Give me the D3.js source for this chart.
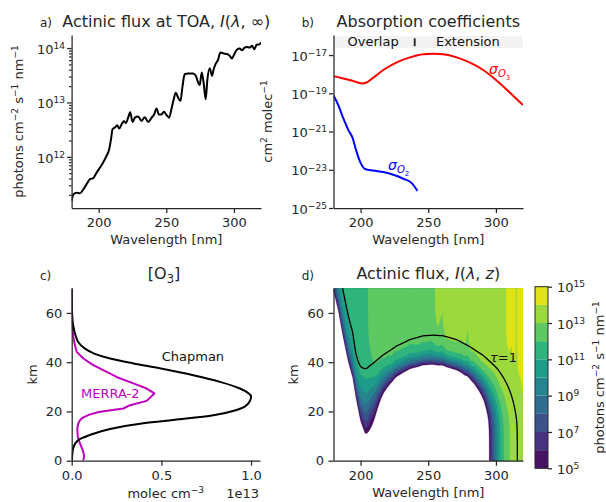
<!DOCTYPE html>
<html><head><meta charset="utf-8">
<script src="https://cdn.jsdelivr.net/npm/d3@7/dist/d3.min.js"></script>
<style>
html,body{margin:0;padding:0;background:#fff}
svg text{font-family:"DejaVu Sans",sans-serif;white-space:pre}
</style></head>
<body><svg id="fig" width="606" height="502"></svg>
<script>
// ---------------- data ----------------
// a) actinic flux at top of atmosphere (photons cm-2 s-1 nm-1)
const fluxWavelength = [180.0,181.3,183.7,186.2,188.6,191.1,193.6,196.0,198.5,200.9,203.4,205.9,207.8,209.1,210.3,212.0,213.7,215.2,217.0,218.7,220.1,221.8,223.3,225.1,226.8,229.2,231.7,234.1,236.6,239.1,241.0,242.8,244.5,246.5,248.2,250.1,252.1,253.8,255.5,257.0,258.7,260.5,261.9,263.6,266.1,269.8,271.8,273.5,274.7,276.2,277.7,279.1,280.4,282.1,283.8,285.0,286.5,288.2,290.0,292.4,294.9,296.8,298.5,300.3,302.2,304.2,306.1,307.8,309.5,311.5,313.4,315.1,316.8,318.8,320.0];
const fluxTOA = [1.55e11,2.04e11,2.19e11,2.14e11,2.51e11,3.16e11,3.89e11,4.07e11,5.13e11,6.31e11,7.94e11,1.05e12,1.38e12,2.09e12,3.24e12,3.47e12,3.80e12,3.31e12,3.98e12,4.57e12,4.17e12,5.25e12,6.61e12,4.37e12,5.25e12,5.50e12,4.57e12,5.37e12,4.37e12,5.25e12,6.03e12,7.76e12,6.03e12,6.03e12,6.76e12,5.89e12,5.25e12,7.59e12,1.15e13,1.51e13,1.23e13,1.07e13,1.91e13,3.31e13,3.39e13,3.39e13,3.09e13,2.34e13,2.09e13,3.55e13,2.19e13,1.15e13,2.69e13,4.27e13,3.09e13,4.07e13,5.13e13,6.03e13,8.32e13,7.94e13,7.76e13,7.24e13,6.46e13,7.76e13,9.33e13,9.77e13,9.12e13,1.02e14,1.05e14,1.02e14,1.10e14,9.55e13,1.15e14,1.17e14,1.26e14];

// b) absorption cross sections (cm2 molec-1)
const o3Wavelength = [180,187.2,194.6,200.8,204.5,209.4,216.8,226.7,236.5,246.3,253.7,261.1,271,280.8,290.6,300.5,310.4,320];
const sigmaO3 = [7.9e-19,6.0e-19,4.4e-19,3.3e-19,3.7e-19,6.6e-19,1.66e-18,4.17e-18,7.59e-18,1.10e-17,1.17e-17,1.10e-17,7.59e-18,3.98e-18,1.66e-18,4.7e-19,1.07e-19,2.4e-20];
const o2Wavelength = [180,183.5,187.2,190.9,194.2,196.6,199.6,203.3,209.4,216.8,224.2,231.6,237.8,242];
const sigmaO2 = [7.6e-20,2.45e-20,5.0e-21,1.23e-21,4.47e-22,1.10e-22,2.69e-23,1.10e-23,9.1e-24,7.6e-24,5.5e-24,3.4e-24,2.0e-24,7.9e-25];
const regionLabels = ["Overlap","Extension"];
const regionEdges = [180,240,320];

// c) ozone profiles (molec cm-3)
const chapmanKm = [0,5,8.4,10.4,12.9,15.2,16.8,18.5,20.6,22.6,26,29.3,32,34.7,37.5,39.5,41.5,43.5,45.6,48.2,51,55,60,65,70];
const chapmanO3 = [1e10,8e10,3.7e11,1.0e12,2.14e12,4.0e12,6.0e12,7.9e12,9.2e12,9.76e12,1.0e13,9.38e12,8.27e12,6.78e12,4.9e12,3.44e12,2.14e12,1.25e12,7.2e11,3.6e11,2.1e11,8e10,2.2e10,6e9,1.6e9];
const merraKm = [0,2,4.3,7.0,9.7,13.1,15.2,16.8,17.6,18.6,19.8,21.2,22.4,24.3,27.3,29.3,31.4,34.0,36.8,38.8,41.5,44.2,46.9,50.3,55.7,70];
const merraO3 = [6.5e11,6.9e11,6.2e11,4.6e11,3.4e11,3.1e11,3.7e11,5.0e11,6.5e11,9.5e11,1.5e12,2.88e12,3.2e12,4.18e12,4.61e12,4.18e12,3.44e12,2.5e12,1.76e12,1.2e12,6.5e11,2.8e11,1.8e11,9e10,0,0];

// model O2 number density used for the O2 optical depth (molec cm-3)
const atmKm = [0,5,10,15,20,25,30,35,40,45,50,55,60,65,70];
const o2Density = [5.25e18,2.57e18,1.258e18,6.16e17,3.01e17,1.476e17,7.23e16,3.54e16,1.73e16,8.48e15,4.15e15,2.03e15,9.94e14,4.87e14,2.38e14];

// d) contour levels (log10 of actinic flux)
const fluxLevels = [5,6,7,8,9,10,11,12,13,14,15];
const cbarTicks = [1e5,1e7,1e9,1e11,1e13,1e15];

// ---------------- helpers ----------------
const INK = '#262626';
const svg = d3.select('#fig');

function interpLog(xs, ys, x){
  if (x <= xs[0]) return ys[0];
  if (x >= xs[xs.length-1]) return ys[ys.length-1];
  const k = d3.bisectRight(xs, x) - 1;
  const t = (x - xs[k]) / (xs[k+1] - xs[k]);
  return Math.exp(Math.log(ys[k])*(1-t) + Math.log(ys[k+1])*t);
}
function segInt(na, nb, dz){
  if (Math.abs(na-nb) < 1e-9*Math.max(na,nb)) return na*dz;
  return (na-nb)*dz/Math.log(na/nb);
}
function columnAbove(zs, ns, z){
  const n = zs.length;
  const hTop = (zs[n-1]-zs[n-2]) / Math.log(ns[n-2]/ns[n-1]);
  if (z >= zs[n-1]) return ns[n-1]*Math.exp(-(z-zs[n-1])/hTop)*hTop*1e5;
  let s = ns[n-1]*hTop;
  const k = Math.max(0, d3.bisectRight(zs, z)-1);
  s += segInt(interpLog(zs, ns, z), ns[k+1], zs[k+1]-z);
  for (let m=k+1; m<n-1; m++) s += segInt(ns[m], ns[m+1], zs[m+1]-zs[m]);
  return s*1e5;
}
function sO3(l){ return interpLog(o3Wavelength, sigmaO3, l); }
function sO2(l){ return l > o2Wavelength[o2Wavelength.length-1] ? 0 : interpLog(o2Wavelength, sigmaO2, l); }
function tau(l, z){ return sO3(l)*columnAbove(chapmanKm, chapmanO3, z) + sO2(l)*columnAbove(atmKm, o2Density, z); }

function rich(t, parts, fs){
  let cur = 0;
  parts.forEach(p => {
    let off = 0, size = fs;
    if (p.sup){ off = -0.38*fs; size = 0.7*fs; }
    if (p.sub){ off = 0.22*fs; size = 0.72*fs; }
    if (p.sub2){ off = 0.40*fs; size = 0.5*fs; }
    const ts = t.append('tspan').attr('font-size', size).text(p.t);
    if (off !== cur) ts.attr('dy', off-cur);
    if (p.it) ts.attr('font-style','italic');
    cur = off;
  });
}
function label(x, y, parts, fs, opts={}){
  const t = svg.append('text').attr('x',x).attr('y',y).attr('font-size',fs)
    .attr('fill', opts.fill||INK).attr('text-anchor', opts.anchor||'start');
  if (opts.rotate) t.attr('transform', `rotate(${opts.rotate},${x},${y})`);
  rich(t, typeof parts === 'string' ? [{t:parts}] : parts, fs);
  return t;
}
function styleAxis(g){
  g.attr('font-family','DejaVu Sans').attr('font-size',13);
  g.select('.domain').attr('stroke',INK).attr('stroke-width',1.25);
  g.selectAll('.tick line').attr('stroke',INK).attr('stroke-width',1.25);
  g.selectAll('.tick text').attr('fill',INK);
}
function powLabels(g, dy){
  g.selectAll('.tick text').each(function(d){
    const e = Math.round(Math.log10(d));
    const t = d3.select(this).text(null).attr('dy', dy);
    rich(t, [{t:'10'},{t:(e<0?'\u2212'+(-e):''+e), sup:true}], 13);
  });
}
function clip(id, x0, y0, x1, y1){
  svg.append('clipPath').attr('id',id).append('rect').attr('x',x0).attr('y',y0).attr('width',x1-x0).attr('height',y1-y0);
}
const unitParts = [{t:'photons cm'},{t:'\u22122',sup:true},{t:' s'},{t:'\u22121',sup:true},{t:' nm'},{t:'\u22121',sup:true}];

// ---------------- scales ----------------
const xA = d3.scaleLinear().domain([180,320]).range([71.6,261]);
const yA = d3.scaleLog().domain([Math.pow(10,11.06), Math.pow(10,14.24)]).range([208,35]);
const xB = d3.scaleLinear().domain([180,320]).range([333.5,523]);
const yB = d3.scaleLog().domain([1e-25, Math.pow(10,-15.95)]).range([208,35]);
const xC = d3.scaleLinear().domain([0,1.05e13]).range([71.7,260]);
const yC = d3.scaleLinear().domain([0,70]).range([460.7,288.3]);
const xD = d3.scaleLinear().domain([180,320]).range([333.5,523]);
const yD = yC.copy();
const cS = d3.scaleLog().domain([1e5,1e15]).range([468.3,286.7]);
const color = d3.scaleOrdinal().domain(fluxLevels.slice(0,-1)).range(fluxLevels.slice(0,-1).map((v,i)=>d3.interpolateViridis((i+0.5)/(fluxLevels.length-1))));

// ================= panel a =================
clip('clipA', 71.6, 35, 261, 208);
svg.append('path').datum(fluxWavelength.map((l,i)=>[l,fluxTOA[i]]))
  .attr('clip-path','url(#clipA)')
  .attr('d', d3.line().x(d=>xA(d[0])).y(d=>yA(d[1])).curve(d3.curveMonotoneX))
  .attr('fill','none').attr('stroke','#000').attr('stroke-width',2).attr('stroke-linejoin','round');
{
  const gx = svg.append('g').attr('transform','translate(0,208)')
    .call(d3.axisBottom(xA).tickValues([200,250,300]).tickSize(5).tickPadding(5).tickSizeOuter(0));
  styleAxis(gx);
  const minors = [];
  [11,12,13,14].forEach(e=>{ for(let m=2;m<=9;m++){ const v=m*Math.pow(10,e); if(v>yA.domain()[0]&&v<yA.domain()[1]) minors.push(v);} });
  const gm = svg.append('g').attr('transform','translate(71.6,0)')
    .call(d3.axisLeft(yA).tickValues(minors).tickSize(2.5).tickFormat(''));
  styleAxis(gm); gm.select('.domain').remove();
  const gy = svg.append('g').attr('transform','translate(71.6,0)')
    .call(d3.axisLeft(yA).tickValues([1e12,1e13,1e14]).tickSize(4.5).tickPadding(2).tickSizeOuter(0));
  styleAxis(gy); powLabels(gy, '0.42em');
}
label(166.3, 27, [{t:'Actinic flux at TOA, '},{t:'I',it:true},{t:'('},{t:'\u03bb',it:true},{t:', \u221e)'}], 16, {anchor:'middle'});
label(40, 27, 'a)', 12);
label(166.3, 244, 'Wavelength [nm]', 13, {anchor:'middle'});
label(23, 121.5, unitParts, 13, {anchor:'middle', rotate:-90});

// ================= panel b =================
clip('clipB', 333.5, 35, 523, 208);
svg.append('rect').attr('x',xB(regionEdges[0])).attr('y',36).attr('width',xB(regionEdges[2])-xB(regionEdges[0])).attr('height',12.3).attr('fill','#f3f3f3');
regionLabels.forEach((s,i)=>label(xB((regionEdges[i]+regionEdges[i+1])/2)-1, 46, s, 13, {anchor:'middle', fill:'#111'}));
svg.append('line').attr('x1',xB(regionEdges[1])).attr('x2',xB(regionEdges[1])).attr('y1',38.3).attr('y2',46.2).attr('stroke','#333').attr('stroke-width',2);
const lineB = d3.line().x(d=>xB(d[0])).y(d=>yB(d[1])).curve(d3.curveMonotoneX);
svg.append('path').datum(o3Wavelength.map((l,i)=>[l,sigmaO3[i]])).attr('clip-path','url(#clipB)')
  .attr('d', lineB).attr('fill','none').attr('stroke','#ff0000').attr('stroke-width',2);
svg.append('path').datum(o2Wavelength.map((l,i)=>[l,sigmaO2[i]])).attr('clip-path','url(#clipB)')
  .attr('d', lineB).attr('fill','none').attr('stroke','#0000ff').attr('stroke-width',2);
label(489, 74, [{t:'\u03c3',it:true},{t:'O',it:true,sub:true},{t:'3',sub2:true}], 14, {fill:'#ff0000'});
label(388, 170, [{t:'\u03c3',it:true},{t:'O',it:true,sub:true},{t:'2',sub2:true}], 14, {fill:'#0000ff'});
{
  const gx = svg.append('g').attr('transform','translate(0,208)')
    .call(d3.axisBottom(xB).tickValues([200,250,300]).tickSize(5).tickPadding(5).tickSizeOuter(0));
  styleAxis(gx);
  const gy = svg.append('g').attr('transform','translate(333.5,0)')
    .call(d3.axisLeft(yB).tickValues([1e-25,1e-23,1e-21,1e-19,1e-17]).tickSize(4.5).tickPadding(2).tickSizeOuter(0));
  styleAxis(gy); powLabels(gy, '0.4em');
}
label(428.3, 27, 'Absorption coefficients', 16, {anchor:'middle'});
label(301.7, 27, 'b)', 12);
label(428.3, 244, 'Wavelength [nm]', 13, {anchor:'middle'});
label(271.5, 121.5, [{t:'cm'},{t:'2',sup:true},{t:' molec'},{t:'\u22121',sup:true}], 13, {anchor:'middle', rotate:-90});

// ================= panel c =================
clip('clipC', 71.7, 288.3, 261, 460.7);
svg.append('path').datum(merraKm.map((z,i)=>[merraO3[i],z])).attr('clip-path','url(#clipC)')
  .attr('d', d3.line().x(d=>xC(d[0])).y(d=>yC(d[1])))
  .attr('fill','none').attr('stroke','#bf00bf').attr('stroke-width',2).attr('stroke-linejoin','round');
svg.append('path').datum(chapmanKm.map((z,i)=>[chapmanO3[i],z])).attr('clip-path','url(#clipC)')
  .attr('d', d3.line().x(d=>xC(d[0])).y(d=>yC(d[1])).curve(d3.curveMonotoneY))
  .attr('fill','none').attr('stroke','#000').attr('stroke-width',2);
label(161.7, 361, 'Chapman', 13, {fill:'#111'});
label(81, 398, 'MERRA-2', 13, {fill:'#bf00bf'});
{
  const gx = svg.append('g').attr('transform','translate(0,460.7)')
    .call(d3.axisBottom(xC).tickValues([0,0.5e13,1e13]).tickFormat(v=>d3.format('.1f')(v/1e13)).tickSize(5).tickPadding(5.5).tickSizeOuter(0));
  styleAxis(gx);
  const gy = svg.append('g').attr('transform','translate(71.7,0)')
    .call(d3.axisLeft(yC).tickValues([0,20,40,60]).tickSize(5).tickPadding(4.5).tickSizeOuter(0));
  styleAxis(gy);
}
label(164, 279, [{t:'[O'},{t:'3',sub:true},{t:']'}], 16, {anchor:'middle'});
label(40, 280, 'c)', 12);
label(165.8, 497.5, [{t:'molec cm'},{t:'\u22123',sup:true}], 13, {anchor:'middle'});
label(259, 497.5, '1e13', 13, {anchor:'end'});
label(36.5, 374.5, 'km', 13, {anchor:'middle', rotate:-90});

// ================= panel d =================
clip('clipD', 333.5, 288.3, 523, 460.7);
{
  const nx = 281, ny = 281, dl = 0.5, dz = 0.25;
  const lamG = d3.range(nx).map(i=>180+i*dl);
  const zG = d3.range(ny).map(j=>j*dz);
  const i0 = lamG.map(l=>Math.log10(interpLog(fluxWavelength, fluxTOA, l)));
  const s3 = lamG.map(sO3), s2 = lamG.map(sO2);
  const c3 = zG.map(z=>columnAbove(chapmanKm, chapmanO3, z));
  const c2 = zG.map(z=>columnAbove(atmKm, o2Density, z));
  const vals = new Float64Array(nx*ny);
  for (let j=0;j<ny;j++) for (let i=0;i<nx;i++){
    const t = s3[i]*c3[j] + s2[i]*c2[j];
    vals[j*nx+i] = Math.max(i0[i] - t/Math.LN10, -30);
  }
  const cont = d3.contours().size([nx,ny]).thresholds(fluxLevels.slice(0,-1))(vals);
  const proj = d3.geoTransform({point(x,y){ this.stream.point(xD(180+(x-0.5)*dl), yD((y-0.5)*dz)); }});
  const gpath = d3.geoPath(proj);
  const gc = svg.append('g').attr('clip-path','url(#clipD)');
  cont.forEach(c=>{
    gc.append('path').attr('d', gpath(c)).attr('fill', color(c.value)).attr('stroke', color(c.value)).attr('stroke-width',0.3);
  });
  // tau = 1 line
  const pts = [];
  let prev = null;
  for (let l=180; l<=320.0001; l+=0.1){
    if (tau(l,0) < 1){
      if (prev !== null){
        let a = prev, b = l;
        for (let k=0;k<40;k++){ const m=(a+b)/2; if (tau(m,0)>=1) a=m; else b=m; }
        pts.push([a,0]);
      }
      break;
    }
    let lo = 0, hi = 90;
    if (tau(l,hi) >= 1){ prev = l; continue; }
    for (let k=0;k<40;k++){ const m=(lo+hi)/2; if (tau(l,m)>=1) lo=m; else hi=m; }
    pts.push([l,lo]); prev = l;
  }
  svg.append('path').datum(pts).attr('clip-path','url(#clipD)')
    .attr('d', d3.line().x(d=>xD(d[0])).y(d=>yD(d[1])))
    .attr('fill','none').attr('stroke','#000').attr('stroke-width',1.3);
  label(490, 361.5, [{t:'\u03c4',it:true},{t:'=1'}], 13, {fill:'#111'});

  const gx = svg.append('g').attr('transform','translate(0,460.7)')
    .call(d3.axisBottom(xD).tickValues([200,250,300]).tickSize(5).tickPadding(5).tickSizeOuter(0));
  styleAxis(gx);
  const gy = svg.append('g').attr('transform','translate(333.5,0)')
    .call(d3.axisLeft(yD).tickValues([0,20,40,60]).tickSize(5).tickPadding(4.5).tickSizeOuter(0));
  styleAxis(gy);

  // colorbar
  const cx0 = 535, cx1 = 548;
  fluxLevels.slice(0,-1).forEach((v,i)=>{
    const yTop = cS(Math.pow(10, fluxLevels[i+1])), yBot = cS(Math.pow(10, v));
    svg.append('rect').attr('x',cx0).attr('y',yTop).attr('width',cx1-cx0).attr('height',yBot-yTop).attr('fill',color(v));
  });
  svg.append('rect').attr('x',cx0).attr('y',cS.range()[1]).attr('width',cx1-cx0).attr('height',cS.range()[0]-cS.range()[1])
    .attr('fill','none').attr('stroke',INK).attr('stroke-width',1);
  const gcb = svg.append('g').attr('transform',`translate(${cx1},0)`)
    .call(d3.axisRight(cS).tickValues(cbarTicks).tickSize(4).tickPadding(5).tickSizeOuter(0));
  styleAxis(gcb); gcb.select('.domain').remove(); powLabels(gcb, '0.4em');
  label(604, 377.5, unitParts, 13, {anchor:'middle', rotate:-90});
}
label(428.3, 279, [{t:'Actinic flux, '},{t:'I',it:true},{t:'('},{t:'\u03bb',it:true},{t:', '},{t:'z',it:true},{t:')'}], 16, {anchor:'middle'});
label(301.7, 280, 'd)', 12);
label(428.3, 496.5, 'Wavelength [nm]', 13, {anchor:'middle'});
label(298, 374.5, 'km', 13, {anchor:'middle', rotate:-90});
</script></body></html>
